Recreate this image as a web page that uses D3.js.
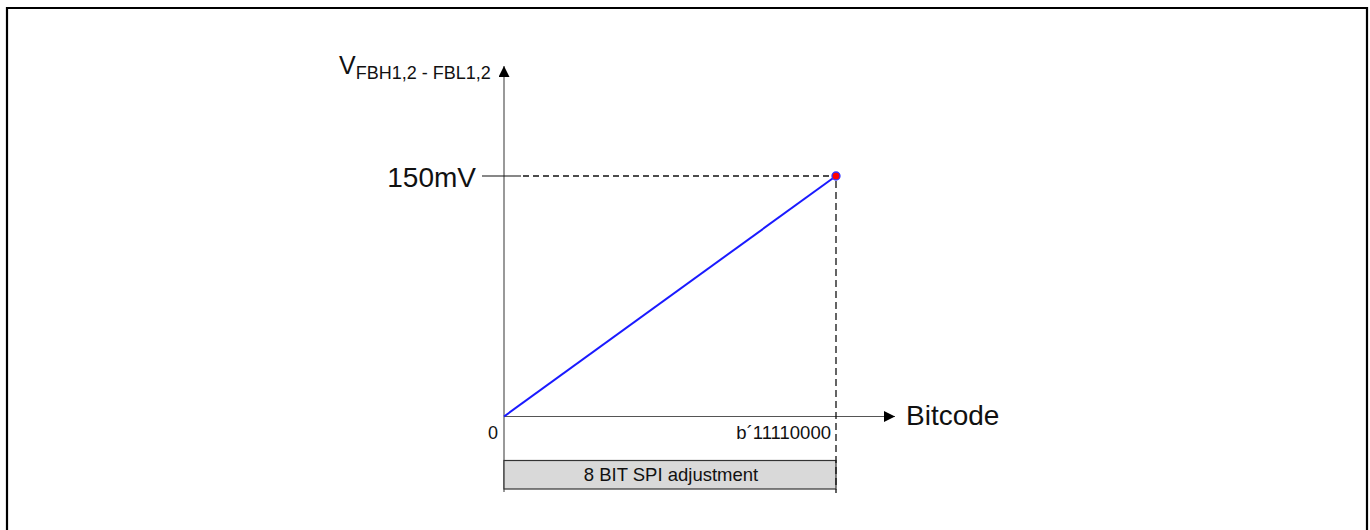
<!DOCTYPE html>
<html>
<head>
<meta charset="utf-8">
<script src="https://cdn.jsdelivr.net/npm/d3@7"></script>
<style>
  html, body { margin: 0; padding: 0; background: #fff; }
  svg { display: block; font-family: "Liberation Sans", Arial, sans-serif; }
</style>
</head>
<body>
<svg id="chart" width="1370" height="530"></svg>
<script>
// Transfer characteristic: SPI bitcode -> feedback voltage difference
const codes = [0, 240];            // 0 .. b'11110000
const voltagesMV = [0, 150];       // mV
const xTickLabels = ["0", "b\u00b411110000"];
const yTickLabels = ["150mV"];
const rangeLabel = "8 BIT SPI adjustment";

const svg = d3.select("#chart");

const x = d3.scaleLinear().domain([0, 240]).range([504, 836]);
const y = d3.scaleLinear().domain([0, 150]).range([416.5, 176]);

// outer frame
svg.append("path")
  .attr("d", "M7,540 V8 H1367 V540")
  .attr("fill", "none").attr("stroke", "#000").attr("stroke-width", 2.2);

// arrow markers
const defs = svg.append("defs");
defs.append("marker").attr("id", "arr")
  .attr("viewBox", "0 0 10 10").attr("refX", 10).attr("refY", 5)
  .attr("markerWidth", 14).attr("markerHeight", 11)
  .attr("markerUnits", "userSpaceOnUse").attr("orient", "auto")
  .append("path").attr("d", "M0,0 L10,5 L0,10 Z").attr("fill", "#000");

// y axis
svg.append("line")
  .attr("x1", x(0)).attr("x2", x(0))
  .attr("y1", 492).attr("y2", 66)
  .attr("stroke", "#555").attr("stroke-width", 1.2)
  .attr("marker-end", "url(#arr)");

// x axis
svg.append("line")
  .attr("x1", x(0)).attr("x2", 895)
  .attr("y1", y(0)).attr("y2", y(0))
  .attr("stroke", "#555").attr("stroke-width", 1.2)
  .attr("marker-end", "url(#arr)");

// range box under the x axis
svg.append("rect")
  .attr("x", x(codes[0])).attr("y", 460.5)
  .attr("width", x(codes[1]) - x(codes[0])).attr("height", 28.5)
  .attr("fill", "#d9d9d9").attr("stroke", "#333").attr("stroke-width", 1.2);
svg.append("text")
  .attr("x", (x(codes[0]) + x(codes[1])) / 2 + 1).attr("y", 481)
  .attr("text-anchor", "middle").attr("font-size", 18.5).attr("fill", "#111")
  .text(rangeLabel);

// y tick mark at 150 mV
svg.append("line")
  .attr("x1", 482).attr("x2", 521)
  .attr("y1", y(voltagesMV[1])).attr("y2", y(voltagesMV[1]))
  .attr("stroke", "#111").attr("stroke-width", 1.2);

// dashed guide lines to the end point
svg.append("line")
  .attr("x1", 523).attr("x2", x(codes[1]))
  .attr("y1", y(voltagesMV[1])).attr("y2", y(voltagesMV[1]))
  .attr("stroke", "#111").attr("stroke-width", 1.3).attr("stroke-dasharray", "6,4");
svg.append("line")
  .attr("x1", x(codes[1])).attr("x2", x(codes[1]))
  .attr("y1", y(voltagesMV[1]) + 5).attr("y2", 493)
  .attr("stroke", "#111").attr("stroke-width", 1.3).attr("stroke-dasharray", "7,4");

// characteristic line
const line = d3.line().x((d, i) => x(codes[i])).y(d => y(d));
svg.append("path")
  .datum(voltagesMV)
  .attr("d", line)
  .attr("fill", "none").attr("stroke", "#1a1aff").attr("stroke-width", 2);

// end point
svg.append("circle")
  .attr("cx", x(codes[1])).attr("cy", y(voltagesMV[1])).attr("r", 4)
  .attr("fill", "#ff0000").attr("stroke", "#3333ff").attr("stroke-width", 1.3);

// tick labels
svg.append("text")
  .attr("x", 493).attr("y", 439).attr("text-anchor", "middle")
  .attr("font-size", 18).attr("fill", "#111").text(xTickLabels[0]);
svg.append("text")
  .attr("x", 831).attr("y", 439).attr("text-anchor", "end")
  .attr("font-size", 18.5).attr("fill", "#111").text(xTickLabels[1]);
svg.append("text")
  .attr("x", 476).attr("y", 187).attr("text-anchor", "end")
  .attr("font-size", 28).attr("fill", "#111").text(yTickLabels[0]);

// axis titles
svg.append("text")
  .attr("x", 906).attr("y", 425)
  .attr("font-size", 28).attr("fill", "#111").text("Bitcode");

const yt = svg.append("text")
  .attr("x", 339).attr("y", 73.5).attr("fill", "#111");
yt.append("tspan").attr("font-size", 25).text("V");
yt.append("tspan").attr("font-size", 18).attr("dy", 5.5).text("FBH1,2 - FBL1,2");
</script>
</body>
</html>
